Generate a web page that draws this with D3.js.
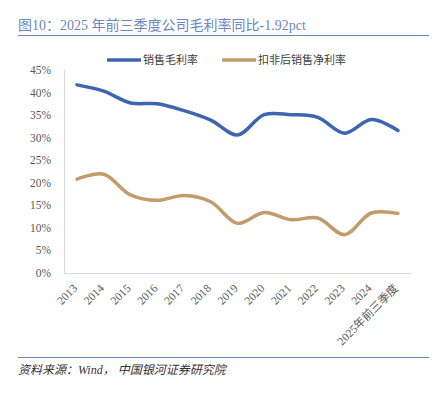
<!DOCTYPE html>
<html>
<head>
<meta charset="utf-8">
<script src="https://cdn.jsdelivr.net/npm/d3@7"></script>
<style>
  body { margin: 0; background: #fff; }
  svg { display: block; }
</style>
</head>
<body>
<svg></svg>
<script>
const years = ["2013","2014","2015","2016","2017","2018","2019","2020","2021","2022","2023","2024","2025年前三季度"]
const grossMargin = [41.7, 40.3, 37.7, 37.5, 36.0, 33.9, 30.6, 35.1, 35.1, 34.5, 31.0, 34.0, 31.6]
const netMargin = [20.8, 21.9, 17.3, 16.1, 17.2, 15.8, 11.0, 13.4, 11.8, 12.2, 8.5, 13.3, 13.2]
const seriesNames = ["销售毛利率", "扣非后销售净利率"]
const yTicks = [0, 5, 10, 15, 20, 25, 30, 35, 40, 45]

const svg = d3.select("svg")
  .attr("width", 440)
  .attr("height", 393)

const serif = "'Liberation Serif', 'Noto Sans CJK SC', serif"

// title + rule
svg.append("text")
  .attr("x", 18).attr("y", 30)
  .attr("font-family", serif)
  .attr("font-size", 14)
  .attr("fill", "#6b86c0")
  .text("图10：2025 年前三季度公司毛利率同比-1.92pct")

svg.append("line")
  .attr("x1", 18).attr("x2", 429).attr("y1", 35.5).attr("y2", 35.5)
  .attr("stroke", "#6b86c0").attr("stroke-width", 1)

const x = d3.scalePoint()
  .domain(years)
  .range([77, 398])

const y = d3.scaleLinear()
  .domain([0, 45])
  .range([273, 70])

// axis lines
svg.append("line")
  .attr("x1", 64.5).attr("x2", 64.5).attr("y1", 70).attr("y2", 273)
  .attr("stroke", "#d9d9d9")
svg.append("line")
  .attr("x1", 64).attr("x2", 411).attr("y1", 273.5).attr("y2", 273.5)
  .attr("stroke", "#d9d9d9")

// y labels
svg.append("g")
  .selectAll("text")
  .data(yTicks)
  .enter()
  .append("text")
  .attr("x", 51)
  .attr("y", d => y(d))
  .attr("dy", "0.35em")
  .attr("text-anchor", "end")
  .attr("font-family", serif)
  .attr("font-size", 11.5)
  .attr("fill", "#595959")
  .text(d => d + "%")

// x labels
svg.append("g")
  .selectAll("text")
  .data(years)
  .enter()
  .append("text")
  .attr("transform", d => `translate(${x(d) + 1},${289}) rotate(-45)`)
  .attr("text-anchor", "end")
  .attr("font-family", serif)
  .attr("font-size", 11.5)
  .attr("fill", "#595959")
  .text(d => d)

const line = d3.line()
  .x((d, i) => x(years[i]))
  .y(d => y(d))
  .curve(d3.curveCatmullRom.alpha(0.5))

const colors = ["#3d65b0", "#c29c6a"]

svg.append("path")
  .attr("d", line(grossMargin))
  .attr("fill", "none")
  .attr("stroke", colors[0])
  .attr("stroke-width", 3.5)
  .attr("stroke-linecap", "round")

svg.append("path")
  .attr("d", line(netMargin))
  .attr("fill", "none")
  .attr("stroke", colors[1])
  .attr("stroke-width", 3.5)
  .attr("stroke-linecap", "round")

// legend
const legendX = [107, 222]
seriesNames.forEach((name, i) => {
  svg.append("line")
    .attr("x1", legendX[i]).attr("x2", legendX[i] + 34)
    .attr("y1", 60).attr("y2", 60)
    .attr("stroke", colors[i]).attr("stroke-width", 3.5)
  svg.append("text")
    .attr("x", legendX[i] + 36).attr("y", 60)
    .attr("dy", "0.35em")
    .attr("font-family", "'Noto Sans CJK SC', sans-serif")
    .attr("font-size", 11)
    .attr("fill", "#404040")
    .text(name)
})

// footer
svg.append("line")
  .attr("x1", 18).attr("x2", 429).attr("y1", 357.5).attr("y2", 357.5)
  .attr("stroke", "#6b86c0").attr("stroke-width", 1)

svg.append("text")
  .attr("x", 18).attr("y", 374)
  .attr("font-family", serif)
  .attr("font-style", "italic")
  .attr("font-size", 12)
  .attr("fill", "#333")
  .text("资料来源：Wind， 中国银河证券研究院")
</script>
</body>
</html>
